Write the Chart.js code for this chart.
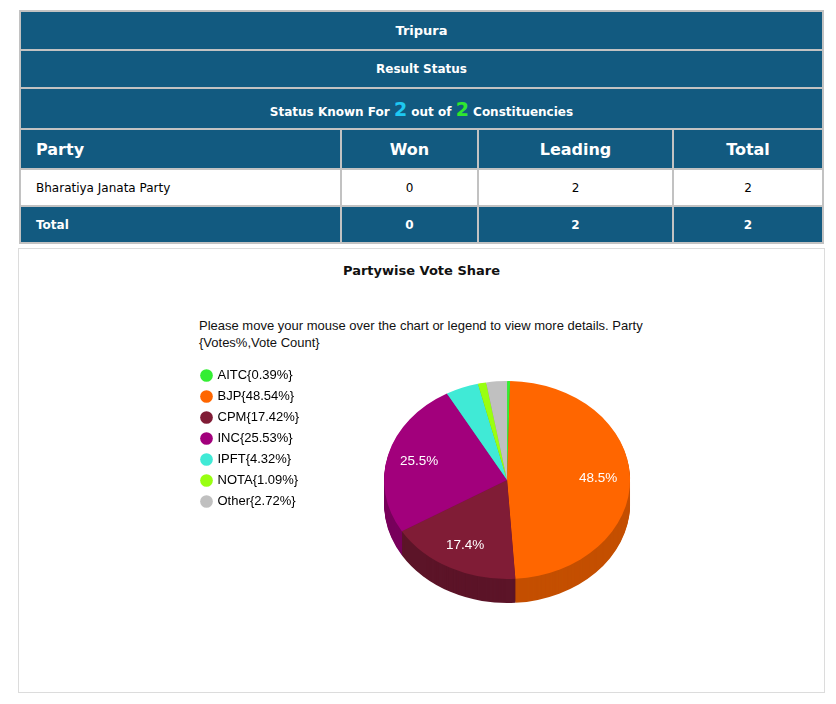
<!DOCTYPE html>
<html>
<head>
<meta charset="utf-8">
<script src="https://cdn.jsdelivr.net/npm/chart.js@4/dist/chart.umd.min.js"></script>
<style>
  html, body { margin: 0; padding: 0; background: #fff; }
  body { width: 836px; height: 704px; position: relative; overflow: hidden; font-family: "DejaVu Sans", Verdana, sans-serif; }
  table.res { position: absolute; left: 19px; top: 10px; width: 803px; border-collapse: collapse; table-layout: fixed; }
  table.res td { border: 2px solid #c2c2c2; background: #125a80; color: #fff; font-weight: bold; text-align: center; font-size: 12px; padding: 0; }
  tr.r1 td { height: 37px; font-size: 13px; }
  tr.r2 td { height: 36px; }
  tr.r3 td { height: 39px; }
  tr.hd td { height: 38px; font-size: 16px; }
  tr.dt td { height: 35px; background: #fff; color: #000; font-weight: normal; }
  tr.tt td { height: 35px; }
  td.lf { text-align: left !important; padding-left: 15px !important; }
  .n1 { color: #1ec8f2; font-size: 19px; }
  .n2 { color: #2fe62f; font-size: 19px; }
  .panel { position: absolute; left: 18px; top: 248px; width: 805px; height: 443px; border: 1px solid #dcdcdc; }
  .title { position: absolute; left: 0; width: 805px; top: 14px; text-align: center; font-weight: bold; font-size: 13px; color: #111; }
  .note { position: absolute; left: 180px; top: 68px; width: 470px; font-family: "Liberation Sans", Arial, sans-serif; font-size: 13px; line-height: 17px; color: #111; }
  .cwrap { position: absolute; left: 194px; top: 361px; width: 511px; height: 268px; }
</style>
</head>
<body>
<table class="res">
  <colgroup><col style="width:321px"><col style="width:137px"><col style="width:195px"><col style="width:150px"></colgroup>
  <tr class="r1"><td colspan="4">Tripura</td></tr>
  <tr class="r2"><td colspan="4">Result Status</td></tr>
  <tr class="r3"><td colspan="4">Status Known For <span class="n1">2</span> out of <span class="n2">2</span> Constituencies</td></tr>
  <tr class="hd"><td class="lf">Party</td><td>Won</td><td>Leading</td><td>Total</td></tr>
  <tr class="dt"><td class="lf">Bharatiya Janata Party</td><td>0</td><td>2</td><td>2</td></tr>
  <tr class="tt"><td class="lf">Total</td><td>0</td><td>2</td><td>2</td></tr>
</table>
<div class="panel">
  <div class="title">Partywise Vote Share</div>
  <div class="note">Please move your mouse over the chart or legend to view more details. Party {Votes%,Vote Count}</div>
</div>
<div class="cwrap"><canvas id="c"></canvas></div>
<script>
const parties = ["AITC", "BJP", "CPM", "INC", "IPFT", "NOTA", "Other"];
const voteShare = [0.39, 48.54, 17.42, 25.53, 4.32, 1.09, 2.72];
const sliceColors = ["#33ee33", "#ff6600", "#801c36", "#a2007c", "#40ead6", "#99ff11", "#c0c0c0"];
const sideColors = ["#22aa22", "#c44f00", "#5c1428", "#78005c", "#2eb0a0", "#70bb0c", "#909090"];

const TILT = 0.805;
const DEPTH = 24;

const pie3d = {
  id: 'pie3d',
  beforeDatasetsDraw(chart) {
    const ctx = chart.ctx;
    const arcs = chart.getDatasetMeta(0).data;
    if (!arcs.length) return;
    const cx = arcs[0].x, cy = arcs[0].y;
    for (let k = DEPTH; k >= 1; k--) {
      ctx.save();
      ctx.translate(0, k);
      ctx.translate(cx, cy); ctx.scale(1, TILT); ctx.translate(-cx, -cy);
      arcs.forEach((a, i) => {
        ctx.beginPath();
        ctx.moveTo(a.x, a.y);
        ctx.arc(a.x, a.y, a.outerRadius, a.startAngle, a.endAngle);
        ctx.closePath();
        ctx.fillStyle = sideColors[i];
        ctx.fill();
      });
      ctx.restore();
    }
    ctx.save();
    ctx.translate(cx, cy); ctx.scale(1, TILT); ctx.translate(-cx, -cy);
  },
  afterDatasetsDraw(chart) {
    const ctx = chart.ctx;
    ctx.restore();
    const arcs = chart.getDatasetMeta(0).data;
    ctx.save();
    ctx.fillStyle = '#fff';
    ctx.font = '13.5px "Liberation Sans", Arial, sans-serif';
    ctx.textAlign = 'center';
    ctx.textBaseline = 'middle';
    arcs.forEach((a, i) => {
      if (voteShare[i] < 10) return;
      const mid = (a.startAngle + a.endAngle) / 2;
      const r = a.outerRadius * 0.74;
      const x = a.x + Math.cos(mid) * r;
      const y = a.y + Math.sin(mid) * r * TILT;
      ctx.fillText(voteShare[i].toFixed(1) + '%', x, y);
    });
    ctx.restore();
  }
};

new Chart(document.getElementById('c'), {
  type: 'pie',
  data: {
    labels: parties,
    datasets: [{
      data: voteShare,
      backgroundColor: sliceColors,
      borderWidth: 0,
      radius: 123,
      clip: false
    }]
  },
  options: {
    responsive: true,
    maintainAspectRatio: false,
    animation: false,
    layout: { padding: { top: 0, bottom: 30, left: 0, right: 0 } },
    plugins: {
      legend: {
        position: 'left',
        align: 'start',
        labels: {
          usePointStyle: true,
          pointStyle: 'circle',
          boxWidth: 9,
          boxHeight: 9,
          padding: 8,
          color: '#333',
          font: { family: '"Liberation Sans", Arial, sans-serif', size: 13 },
          generateLabels(chart) {
            return parties.map((p, i) => ({
              text: p + '{' + voteShare[i].toFixed(2) + '%}',
              fillStyle: sliceColors[i],
              strokeStyle: sliceColors[i],
              lineWidth: 0,
              pointStyle: 'circle',
              hidden: false,
              index: i
            }));
          }
        }
      },
      tooltip: { enabled: false }
    }
  },
  plugins: [pie3d]
});
</script>
</body>
</html>
